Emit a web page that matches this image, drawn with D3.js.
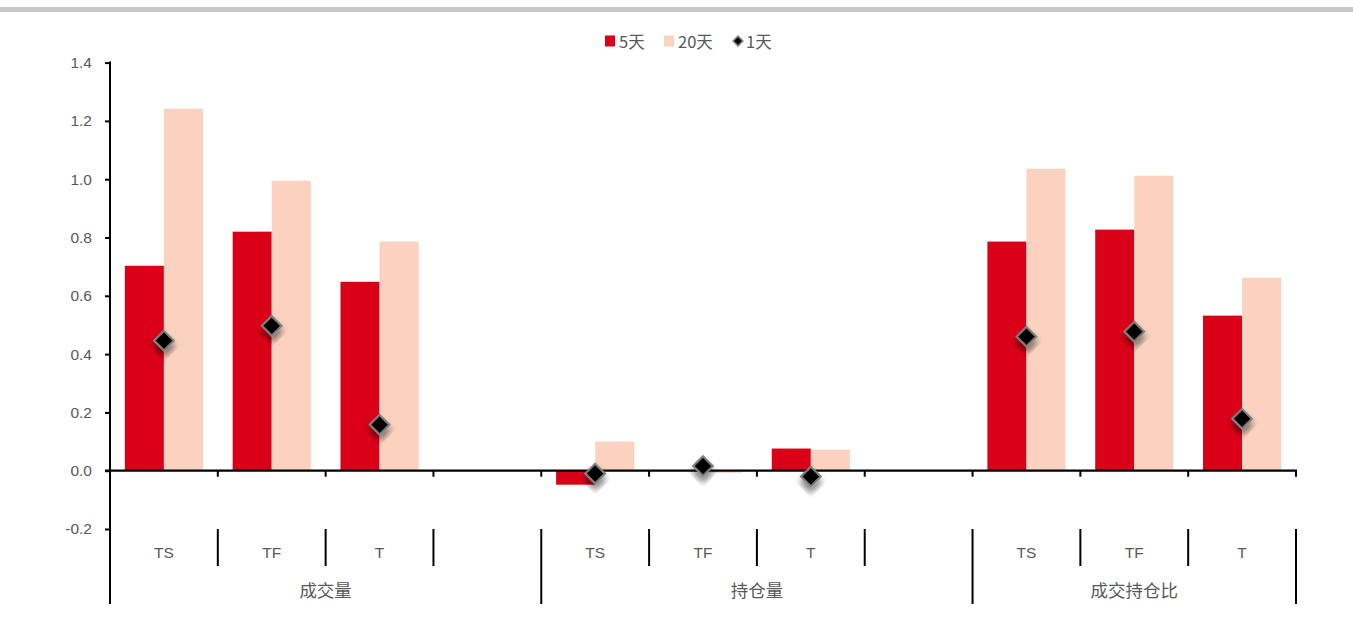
<!DOCTYPE html>
<html><head><meta charset="utf-8">
<script src="https://cdn.jsdelivr.net/npm/d3@7"></script>
<style>
html,body{margin:0;padding:0;background:#fff;}
svg{display:block;}
text{font-family:"Liberation Sans","Noto Sans CJK SC",sans-serif;fill:#595959;}
.cjk{font-family:"Noto Sans CJK SC",sans-serif;}
</style></head>
<body>
<svg id="chart" width="1353" height="641"></svg>
<script>
const categories = ["TS","TF","T","","TS","TF","T","","TS","TF","T"];
const groups = ["成交量","持仓量","成交持仓比"];
const groupSizes = [4,4,3];
const series5 = [0.703,0.820,0.648,null,-0.048,0.001,0.076,null,0.786,0.827,0.532];
const series20 = [1.242,0.995,0.786,null,0.100,-0.007,0.072,null,1.036,1.012,0.662];
const series1 = [0.446,0.497,0.158,null,-0.010,0.016,-0.020,null,0.460,0.477,0.178];
const yTicks = [-0.2,0.0,0.2,0.4,0.6,0.8,1.0,1.2,1.4];
const seriesNames = ["5天","20天","1天"];
const colors = {"5天":"#DA0018","20天":"#FAD2BF","1天":"#000000"};

const svg = d3.select("#chart");
// top gray band
svg.append("rect").attr("x",0).attr("y",7).attr("width",1353).attr("height",5).attr("fill","#C8C8C8");

const defs = svg.append("defs");
const f = defs.append("filter").attr("id","shadow").attr("x","-50%").attr("y","-50%").attr("width","200%").attr("height","200%");
f.append("feDropShadow").attr("dx",4).attr("dy",4).attr("stdDeviation",3).attr("flood-color","#000").attr("flood-opacity",0.5);

const idx = categories.map((_,i)=>i);
const x = d3.scaleBand().domain(idx).range([110,1296]).paddingInner(0).paddingOuter(0);
const x1 = d3.scaleBand().domain(["5天","20天"]).range([0,x.bandwidth()]).paddingInner(0).paddingOuter(0.38);
const y = d3.scaleLinear().domain([-0.2,1.4]).range([529,62.6]);

// bars
const barData = [];
idx.forEach(i=>{
  if(series5[i]!==null) barData.push({i,s:"5天",v:series5[i]});
  if(series20[i]!==null) barData.push({i,s:"20天",v:series20[i]});
});
svg.append("g").selectAll("rect").data(barData).join("rect")
  .attr("x",d=>x(d.i)+x1(d.s))
  .attr("width",x1.bandwidth())
  .attr("y",d=>y(Math.max(0,d.v)))
  .attr("height",d=>Math.abs(y(d.v)-y(0)))
  .attr("fill",d=>colors[d.s]);

// y axis
const fmt = d=>d3.format(".1f")(d).replace("\u2212","-");
const yAxis = d3.axisLeft(y).tickValues(yTicks).tickSize(5).tickSizeOuter(0).tickFormat(fmt);
const gy = svg.append("g").attr("transform","translate(110,0)").call(yAxis);
gy.select(".domain").remove();
gy.selectAll(".tick line").attr("stroke","#000").attr("stroke-width",2);
gy.selectAll(".tick text").attr("x",-18).attr("font-size",15.5).style("fill","#595959").attr("font-family","Liberation Sans, sans-serif");
svg.append("line").attr("x1",110).attr("x2",110).attr("y1",y(1.4)-1).attr("y2",604).attr("stroke","#000").attr("stroke-width",2);

// zero line
const y0 = y(0);
svg.append("line").attr("x1",105).attr("x2",1297).attr("y1",y0).attr("y2",y0).attr("stroke","#000").attr("stroke-width",2.2);
const bounds = idx.map(i=>x(i)).concat([x.range()[1]]);
svg.append("g").selectAll("line").data(bounds).join("line")
  .attr("x1",d=>d).attr("x2",d=>d).attr("y1",y0).attr("y2",y0+6)
  .attr("stroke","#000").attr("stroke-width",2);

// multi-level category labels
const groupBounds = [0];
groupSizes.forEach((n,k)=>groupBounds.push(groupBounds[k]+n));
const isGroupBound = new Set(groupBounds);
svg.append("g").selectAll("line").data(bounds.map((b,k)=>({b,k}))).join("line")
  .attr("x1",d=>d.b).attr("x2",d=>d.b)
  .attr("y1",y(-0.2))
  .attr("y2",d=>isGroupBound.has(d.k)?604:566)
  .attr("stroke","#000").attr("stroke-width",2);

svg.append("g").selectAll("text").data(idx).join("text")
  .attr("x",i=>x(i)+x.bandwidth()/2).attr("y",558)
  .attr("text-anchor","middle").attr("font-size",15.5)
  .text(i=>categories[i]);

svg.append("g").selectAll("text").data(groups).join("text")
  .attr("class","cjk")
  .attr("x",(g,k)=>(bounds[groupBounds[k]]+bounds[groupBounds[k+1]])/2)
  .attr("y",597).attr("text-anchor","middle").attr("font-size",17.5)
  .text(g=>g);

// diamonds
const diamond = d3.symbol(d3.symbolSquare,200);
const dData = idx.filter(i=>series1[i]!==null).map(i=>({i,v:series1[i]}));
svg.append("g").selectAll("path").data(dData).join("path")
  .attr("d",diamond)
  .attr("transform",d=>`translate(${x(d.i)+x.bandwidth()/2},${y(d.v)}) rotate(45)`)
  .attr("fill","#000").attr("stroke","#808080").attr("stroke-width",2)
  .attr("filter","url(#shadow)");

// legend
const leg = svg.append("g");
const legItems = [
  {name:"5天",sx:605,tx:619},
  {name:"20天",sx:664,tx:678},
  {name:"1天",sx:733,tx:746}
];
legItems.forEach(it=>{
  if(it.name==="1天"){
    leg.append("path").attr("d",d3.symbol(d3.symbolSquare,48)())
      .attr("transform",`translate(${it.sx+5},41) rotate(45)`)
      .attr("fill","#000").attr("stroke","#808080").attr("stroke-width",1.5);
  } else {
    leg.append("rect").attr("x",it.sx).attr("y",35.5).attr("width",10).attr("height",11).attr("fill",colors[it.name]);
  }
  leg.append("text").attr("class","cjk").attr("x",it.tx).attr("y",47.5).attr("font-size",16.5).text(it.name);
});
</script>
</body></html>
